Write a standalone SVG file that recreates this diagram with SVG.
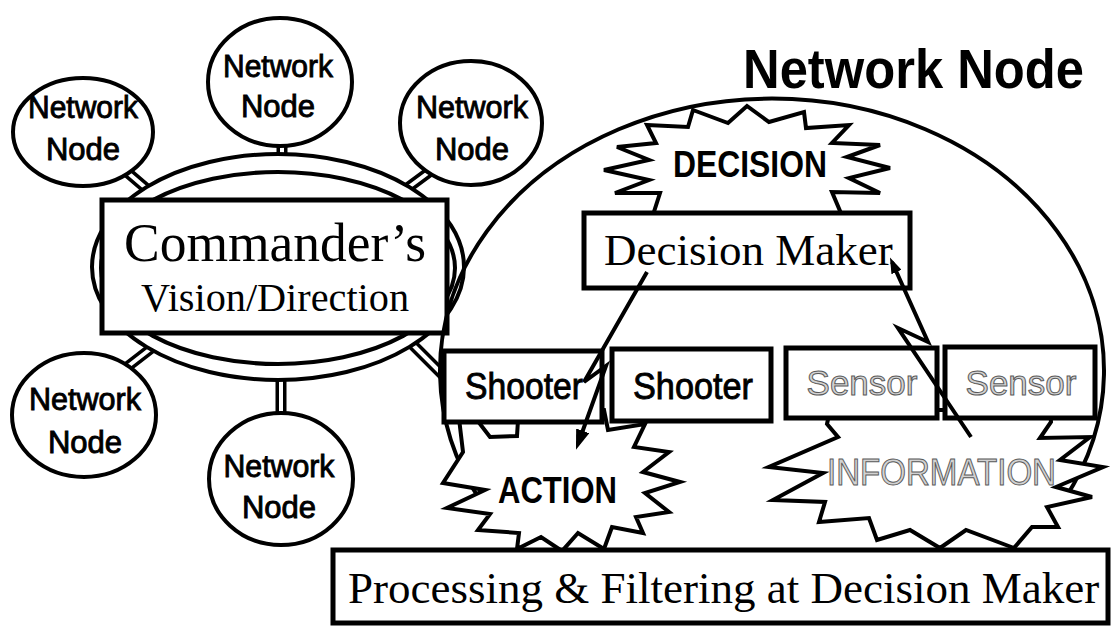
<svg xmlns="http://www.w3.org/2000/svg" width="1111" height="628" viewBox="0 0 1111 628">
<defs>
<style>
.circ{fill:#fff;stroke:#000;stroke-width:4}
.box{fill:#fff;stroke:#000;stroke-width:5}
.burst{fill:#fff;stroke:#000;stroke-width:4;stroke-linejoin:miter}
.ring{fill:none;stroke:#000;stroke-width:4}
.sans{font-family:"Liberation Sans",Arial,sans-serif}
.serif{font-family:"Liberation Serif","Times New Roman",serif;fill:#000}
.nn{font-size:31px;text-anchor:middle;fill:#000;stroke:#000;stroke-width:0.9}
.heavy{fill:#000;stroke:#000;stroke-width:0.9}
.grey{fill:#d2d2d2;stroke:#5a5a5a;stroke-width:1}
.lo{stroke:#000;stroke-width:11;fill:none}
.li{stroke:#fff;stroke-width:4;fill:none}
.bolt{fill:none;stroke:#000;stroke-width:4;stroke-linejoin:miter}
</style>
<marker id="ah" viewBox="0 0 20 14" refX="14" refY="7" markerWidth="20" markerHeight="14" markerUnits="userSpaceOnUse" orient="auto">
<path d="M0,0 L20,7 L0,14 z" fill="#000"/>
</marker>
<marker id="ah2" viewBox="0 0 16 11" refX="11" refY="5.5" markerWidth="16" markerHeight="11" markerUnits="userSpaceOnUse" orient="auto">
<path d="M0,0 L16,5.5 L0,11 z" fill="#000"/>
</marker>
</defs>
<rect width="1111" height="628" fill="#fff"/>

<g id="links" class="connectors">
<path class="lo" d="M120,166 L162,202 M282,138 L282,162 M440,164 L398,195 M162,340 L118,374 M281,372 L281,420 M404,336 L448,380"/>
<path class="li" d="M120,166 L162,202 M282,138 L282,162 M440,164 L398,195 M162,340 L118,374 M281,372 L281,420 M404,336 L448,380"/>
</g>

<g id="node-tl"><ellipse class="circ" cx="83" cy="132" rx="70" ry="54"/><text class="sans nn" x="83" y="118" textLength="110" lengthAdjust="spacingAndGlyphs">Network</text><text class="sans nn" x="83" y="160">Node</text></g>
<g id="node-tc"><ellipse class="circ" cx="280" cy="82" rx="72" ry="64"/><text class="sans nn" x="278" y="77" textLength="110" lengthAdjust="spacingAndGlyphs">Network</text><text class="sans nn" x="278" y="117">Node</text></g>
<g id="node-tr"><ellipse class="circ" cx="471" cy="123" rx="71" ry="62"/><text class="sans nn" x="472" y="118" textLength="112" lengthAdjust="spacingAndGlyphs">Network</text><text class="sans nn" x="472" y="160">Node</text></g>
<g id="node-bl"><ellipse class="circ" cx="84" cy="415" rx="72" ry="62"/><text class="sans nn" x="85" y="410" textLength="112" lengthAdjust="spacingAndGlyphs">Network</text><text class="sans nn" x="85" y="453">Node</text></g>
<g id="node-bc"><ellipse class="circ" cx="281" cy="479" rx="72" ry="66"/><text class="sans nn" x="279" y="477" textLength="111" lengthAdjust="spacingAndGlyphs">Network</text><text class="sans nn" x="279" y="518">Node</text></g>

<g id="commander">
<ellipse cx="278" cy="267" rx="186" ry="113" fill="#fff" stroke="#000" stroke-width="4"/>
<ellipse class="ring" cx="278" cy="268" rx="177" ry="96"/>
<rect class="box" x="102" y="200" width="345" height="133"/>
<text class="serif" x="275" y="261" font-size="55" text-anchor="middle" textLength="302" lengthAdjust="spacingAndGlyphs">Commander’s</text>
<text class="serif" x="275" y="311" font-size="40" text-anchor="middle" textLength="268" lengthAdjust="spacingAndGlyphs">Vision/Direction</text>
</g>

<g id="network-node">
<path d="M480,500 A332,272 0 1 1 1064,500" fill="none" stroke="#000" stroke-width="4"/>
<text class="sans" x="743" y="88" font-size="55" font-weight="bold" textLength="341" lengthAdjust="spacingAndGlyphs">Network Node</text>
</g>

<g id="action">
<polygon class="burst" points="458,410 463,452 443,483 485,490 447,508 490,514 478,530 519,533 517,549 541,537 562,551 578,533 604,549 612,527 643,533 636,517 669,512 645,493 680,482 643,472 669,452 634,447 645,424 608,430 604,410 560,410 518,420 517,436 490,437 477,420"/>
<text class="sans" x="498" y="503" font-size="36" font-weight="bold" textLength="119" lengthAdjust="spacingAndGlyphs">ACTION</text>
</g>

<g id="information">
<polygon class="burst" points="830,410 827,424 838,437 769,467 823,473 773,500 825,502 819,522 869,518 877,540 910,530 940,548 966,530 1014,548 1032,527 1058,527 1047,507 1092,497 1056,487 1103,467 1060,460 1090,437 1040,438 1051,422 1050,410"/>
<text class="sans grey" x="827" y="485" font-size="36" textLength="229" lengthAdjust="spacingAndGlyphs">INFORMATION</text>
</g>

<g id="shooter-1"><rect class="box" x="444" y="351" width="158" height="71" stroke-width="6"/><text class="sans heavy" x="465" y="399" font-size="37" textLength="118" lengthAdjust="spacingAndGlyphs">Shooter</text></g>
<g id="shooter-2"><rect class="box" x="612" y="349" width="159" height="72" stroke-width="6"/><text class="sans heavy" x="633" y="399" font-size="37" textLength="120" lengthAdjust="spacingAndGlyphs">Shooter</text></g>
<g id="sensor-1"><rect class="box" x="786" y="348" width="151" height="70" stroke-width="6"/><text class="sans grey" x="862" y="395" font-size="35" text-anchor="middle">Sensor</text></g>
<g id="sensor-2"><rect class="box" x="945" y="347" width="150" height="71" stroke-width="6"/><text class="sans grey" x="1021" y="395" font-size="35" text-anchor="middle">Sensor</text></g>

<g id="decision">
<polygon class="burst" points="647,125 688,127 693,110 728,123 747,106 769,122 804,112 806,128 849,125 832,143 880,145 847,157 890,168 849,178 880,193 832,192 843,218 652,218 660,193 615,193 649,180 604,170 649,160 617,147 656,143"/>
<text class="sans" x="673" y="177" font-size="37" font-weight="bold" textLength="154" lengthAdjust="spacingAndGlyphs">DECISION</text>
</g>

<g id="decision-maker">
<rect class="box" x="584" y="213" width="326" height="75"/>
<text class="serif" x="604" y="265" font-size="45">Decision Maker</text>
</g>

<g id="processing">
<rect class="box" x="333" y="550" width="775" height="73"/>
<text class="serif" x="348" y="603" font-size="45">Processing &amp; Filtering at Decision Maker</text>
</g>

<g id="arrows" class="connectors">
<polyline class="bolt" points="647,272 584,382 606,366 578,444" marker-end="url(#ah)"/>
<polyline class="bolt" points="971,437 898,328 928,342 892,262" marker-end="url(#ah2)"/>
</g>
</svg>
